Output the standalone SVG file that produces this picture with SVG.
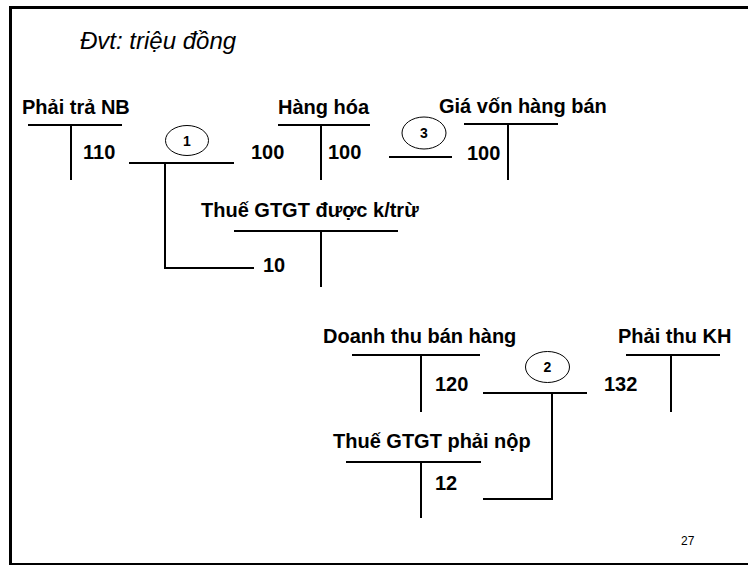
<svg xmlns="http://www.w3.org/2000/svg" width="748" height="566" viewBox="0 0 748 566">
  <style>
    .title { font-family: "Liberation Sans", Arial, sans-serif; font-size: 24px; font-style: italic; fill: #000; }
    .head { font-family: "Liberation Sans", Arial, sans-serif; font-size: 20px; font-weight: bold; fill: #000; }
    .num { font-family: "Liberation Sans", Arial, sans-serif; font-size: 20px; font-weight: bold; fill: #000; }
    .tag { font-family: "Liberation Sans", Arial, sans-serif; font-size: 14px; font-weight: bold; fill: #000; text-anchor: middle; }
    .page { font-family: "Liberation Sans", Arial, sans-serif; font-size: 12px; fill: #000; }
    .t { stroke: #000; stroke-width: 2; fill: none; }
    .c { stroke: #000; stroke-width: 2; fill: none; }
    .ring { stroke: #000; stroke-width: 1; fill: #fff; }
  </style>

  <rect width="748" height="566" fill="#fff"/>

  <!-- slide frame -->
  <g id="frame" stroke="#000" fill="none">
    <line x1="10.5" y1="6" x2="10.5" y2="565" stroke-width="3"/>
    <line x1="9" y1="7.5" x2="748" y2="7.5" stroke-width="3"/>
    <line x1="9" y1="564" x2="748" y2="564" stroke-width="2"/>
  </g>

  <text class="title" x="80" y="49">Đvt: triệu đồng</text>

  <!-- T-accounts -->
  <g id="phai-tra-nb">
    <text class="head" x="22" y="114">Phải trả NB</text>
    <path class="t" d="M28 125 H122 M71 125 V180"/>
    <text class="num" x="83" y="159">110</text>
  </g>

  <g id="hang-hoa">
    <text class="head" x="278" y="114">Hàng hóa</text>
    <path class="t" d="M278 125 H370 M321 125 V180"/>
    <text class="num" x="251" y="159">100</text>
    <text class="num" x="328" y="159">100</text>
  </g>

  <g id="gia-von-hang-ban">
    <text class="head" x="439" y="113">Giá vốn hàng bán</text>
    <path class="t" d="M464 124 H558 M508 124 V180"/>
    <text class="num" x="467" y="160">100</text>
  </g>

  <g id="thue-gtgt-khau-tru">
    <text class="head" x="201" y="217">Thuế GTGT được k/trừ</text>
    <path class="t" d="M234 231 H398 M321 231 V287"/>
    <text class="num" x="263" y="272">10</text>
  </g>

  <g id="doanh-thu-ban-hang">
    <text class="head" x="323" y="343">Doanh thu bán hàng</text>
    <path class="t" d="M352 355 H480 M421 355 V412"/>
    <text class="num" x="435" y="391">120</text>
  </g>

  <g id="phai-thu-kh">
    <text class="head" x="618" y="343">Phải thu KH</text>
    <path class="t" d="M626 355 H720 M671 355 V412"/>
    <text class="num" x="604" y="391">132</text>
  </g>

  <g id="thue-gtgt-phai-nop">
    <text class="head" x="333" y="448">Thuế GTGT phải nộp</text>
    <path class="t" d="M346 462 H481 M421 462 V518"/>
    <text class="num" x="435" y="490">12</text>
  </g>

  <!-- posting lines with entry numbers -->
  <g id="connectors">
    <path class="c" d="M129 163 H234 M165 163 V268 H254"/>
    <ellipse class="ring" cx="187" cy="140.5" rx="21.5" ry="15"/>
    <text class="tag" x="187" y="145.5">1</text>

    <path class="c" d="M389 157 H452"/>
    <ellipse class="ring" cx="424" cy="133" rx="22" ry="16"/>
    <text class="tag" x="424" y="138">3</text>

    <path class="c" d="M483 393 H587 M552 393 V499 H483" stroke-width="1.5"/>
    <ellipse class="ring" cx="547.5" cy="367" rx="22" ry="15.5"/>
    <text class="tag" x="547.5" y="372">2</text>
  </g>

  <text class="page" x="681" y="545">27</text>
</svg>
